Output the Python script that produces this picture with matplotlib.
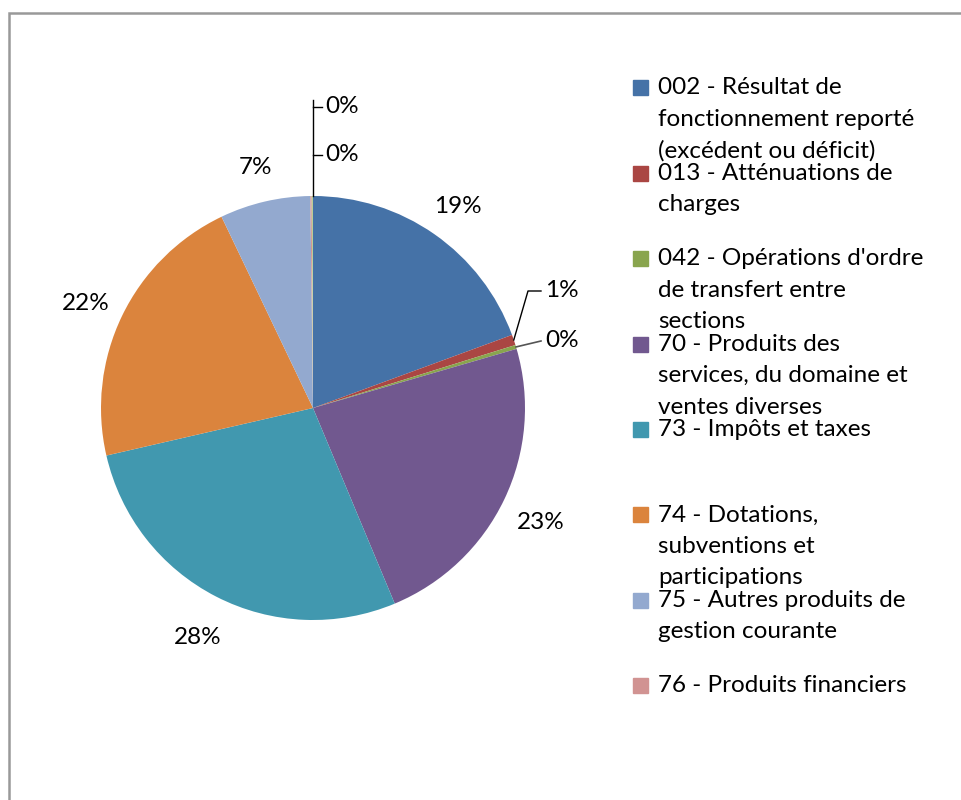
import numpy as np
import matplotlib
matplotlib.use('Agg')
import matplotlib.pyplot as plt
from matplotlib.patches import Rectangle

plt.rcParams['font.family'] = ['Lato', 'DejaVu Sans']

# data (percent of total)
categories = ['002 - Résultat de\nfonctionnement reporté\n(excédent ou déficit)',
              '013 - Atténuations de\ncharges',
              "042 - Opérations d'ordre\nde transfert entre\nsections",
              '70 - Produits des\nservices, du domaine et\nventes diverses',
              '73 - Impôts et taxes',
              '74 - Dotations,\nsubventions et\nparticipations',
              '75 - Autres produits de\ngestion courante',
              '76 - Produits financiers',
              '']
values = [19.4, 0.8, 0.3, 23.2, 27.7, 21.5, 6.9, 0.1, 0.1]
colors = ['#4572A7', '#AA4643', '#89A54E', '#71588F', '#4198AF',
          '#DB843D', '#93A9CF', '#D19392', '#B9CD96']

W, H = 962, 800
cx, cy, R = 313, 408, 212          # pie centre / radius in pixels

fig = plt.figure(figsize=(W / 100, H / 100), dpi=100)
ax = fig.add_axes([0, 0, 1, 1])

def px(x, y):
    return (x - cx) / R, (cy - y) / R

wedges, _ = ax.pie(values, colors=colors, startangle=90, counterclock=False,
                   radius=1.0, center=(0, 0), frame=True)
ax.set_xlim(-cx / R, (W - cx) / R)
ax.set_ylim(-(H - cy) / R, cy / R)
ax.set_aspect('equal')
ax.axis('off')

# chart frame
x0, y0 = px(9, 13)
x1, y1 = px(1000, 900)
ax.add_patch(Rectangle((x0, y1), x1 - x0, y0 - y1, fill=False,
                       edgecolor='#999999', lw=1.8, clip_on=False))

labels = ['%d%%' % round(v) for v in values]
cum = np.cumsum([0] + values)
fs = 17.5

# big slices: label outside, on the mid angle
for i in [0, 3, 4, 5, 6]:
    mid = (cum[i] + cum[i + 1]) / 2 / 100 * 2 * np.pi
    r = 1.19
    ax.text(r * np.sin(mid), r * np.cos(mid) - 0.025, labels[i], fontsize=fs,
            ha='center', va='center', color='#000000')

# small slices with leader lines
def edge(i):
    mid = (cum[i] + cum[i + 1]) / 2 / 100 * 2 * np.pi
    return np.sin(mid), np.cos(mid)

ex, ey = edge(1)
lx, ly = px(528, 291)
tx, ty = px(541, 291)
ax.plot([ex, lx, tx], [ey, ly, ty], color='#000000', lw=1)
ax.text(tx + 0.02, ty, labels[1], fontsize=fs, ha='left', va='center')

ex, ey = edge(2)
tx, ty = px(541, 341)
ax.plot([ex, tx], [ey, ty], color='#555555', lw=1.2)
ax.text(tx + 0.02, ty, labels[2], fontsize=fs, ha='left', va='center')

# the two tiny slices at the top
top = px(313, 100)
ax.plot([0, 0], [1.0, top[1]], color='#000000', lw=1)
for i, yy in zip([7, 8], [107, 155]):
    a, b = px(313, yy)
    c, _ = px(322, yy)
    ax.plot([a, c], [b, b], color='#000000', lw=1)
    ax.text(c + 0.015, b, labels[i], fontsize=fs, ha='left', va='center')

# legend, drawn by hand like the spreadsheet one
for i in range(8):
    yc = 88 + i * 85.4
    sx, sy = px(633, yc + 7.5)
    ax.add_patch(Rectangle((sx, sy), 15 / R, 15 / R, color=colors[i]))
    for k, line in enumerate(categories[i].split('\n')):
        tx, ty = px(658, yc + k * 31.5)
        ax.text(tx, ty, line, fontsize=fs, ha='left', va='center',
                color='#000000')

fig.savefig('out.png', dpi=100)
